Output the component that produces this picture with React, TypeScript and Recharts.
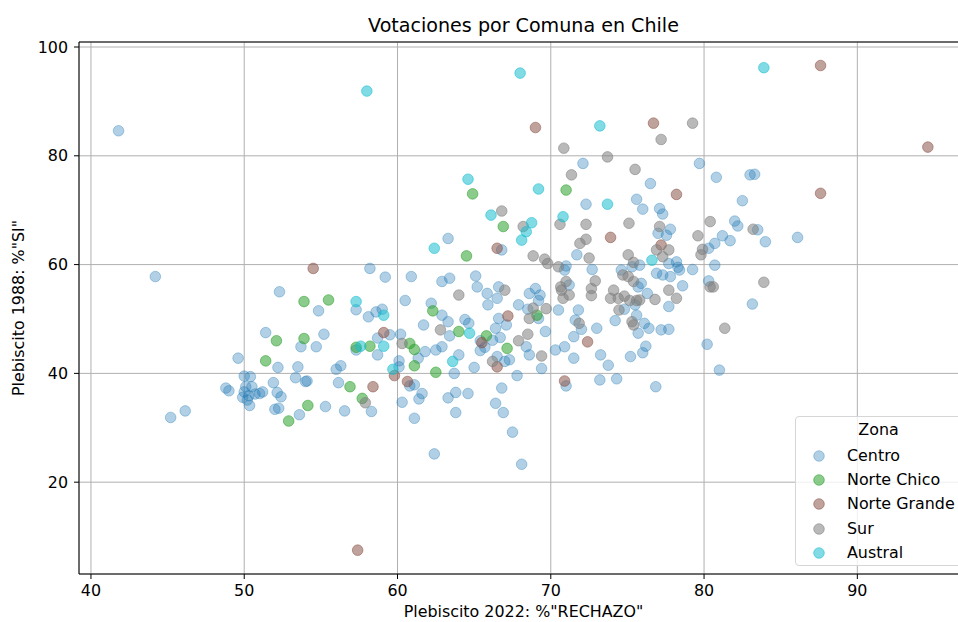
import React from 'react';
import { ScatterChart, Scatter, XAxis, YAxis, CartesianGrid, ReferenceLine } from 'recharts';

// [% RECHAZO 2022, % SI 1988] por comuna
const centro: number[][] = [
  [41.8, 84.6], [44.2, 57.8], [58.2, 59.3], [52.3, 55.0], [57.3, 51.7], [54.85, 51.5], [58.1, 50.4], [58.6, 51.3],
  [51.4, 47.5], [55.2, 47.2], [53.7, 44.9], [54.7, 44.9], [57.3, 44.3], [58.7, 46.5], [58.7, 43.4], [49.6, 42.8],
  [52.2, 41.1], [53.5, 41.2], [50.0, 39.5], [50.4, 39.4], [51.9, 38.3], [53.35, 39.2], [54.0, 38.5], [54.1, 38.6],
  [56.0, 40.75], [56.3, 41.4], [56.15, 38.3], [48.8, 37.3], [49.0, 36.8], [50.1, 37.55], [50.5, 37.55], [50.0, 36.6],
  [50.3, 35.9], [49.9, 35.6], [50.2, 35.1], [50.35, 34.1], [50.7, 36.2], [51.0, 36.3], [51.2, 36.6], [52.15, 36.5],
  [52.4, 35.7], [52.0, 33.4], [52.25, 33.6], [53.6, 32.4], [55.3, 33.9], [56.55, 33.1], [58.3, 33.0], [45.2, 31.9],
  [46.15, 33.1], [63.3, 64.8], [66.8, 62.7], [71.0, 59.75], [70.9, 59.0], [71.7, 61.8], [77.0, 65.75], [77.55, 65.4],
  [59.2, 57.7], [60.9, 57.8], [60.5, 53.4], [62.2, 52.9], [62.9, 50.7], [62.9, 56.9], [63.4, 57.5], [65.1, 57.9],
  [65.2, 55.9], [65.85, 54.7], [65.9, 52.6], [66.5, 53.8], [66.6, 55.9], [67.9, 52.6], [68.6, 54.7], [69.0, 55.6],
  [69.3, 54.4], [69.2, 53.4], [68.5, 51.8], [69.2, 50.1], [69.65, 47.7], [70.5, 51.65], [71.8, 51.65], [71.6, 49.8],
  [72.0, 48.1], [71.5, 46.75], [73.0, 48.3], [70.3, 44.3], [70.9, 44.9], [71.5, 42.8], [73.25, 43.4], [73.75, 41.5],
  [74.3, 39.0], [73.2, 38.8], [75.2, 43.1], [76.0, 43.8], [76.2, 45.0], [76.85, 37.55], [71.0, 37.7], [59.0, 51.8],
  [59.5, 47.1], [60.2, 47.2], [61.7, 48.9], [63.4, 46.9], [64.4, 49.9], [64.65, 49.2], [63.3, 49.5], [61.8, 44.0],
  [62.5, 44.3], [62.9, 44.9], [61.35, 42.8], [64.0, 43.4], [63.7, 40.0], [65.0, 41.1], [60.1, 42.3], [60.1, 41.2],
  [60.8, 37.7], [61.1, 37.9], [61.6, 36.3], [61.4, 35.3], [60.3, 34.7], [61.1, 31.75], [63.3, 35.5], [63.8, 36.5],
  [64.6, 36.3], [63.8, 32.8], [66.4, 34.5], [66.9, 32.8], [66.8, 37.3], [67.8, 39.6], [67.5, 29.2], [65.7, 44.8],
  [65.4, 44.2], [65.4, 46.0], [66.2, 46.1], [66.7, 46.6], [66.4, 48.3], [67.1, 48.9], [66.6, 50.1], [66.5, 43.1],
  [67.0, 42.2], [67.3, 42.5], [68.4, 44.9], [68.6, 43.4], [69.4, 40.9], [71.2, 56.25], [72.7, 59.1], [74.6, 59.0],
  [75.3, 59.6], [75.8, 59.9], [75.7, 55.9], [75.9, 56.55], [76.3, 54.7], [75.5, 52.6], [74.8, 51.8], [74.2, 49.7],
  [75.6, 50.7], [76.1, 49.2], [76.4, 48.3], [75.7, 47.4], [77.2, 48.0], [77.7, 48.1], [76.9, 58.4], [77.3, 58.1],
  [77.8, 57.8], [77.7, 52.3], [81.2, 65.3], [81.7, 64.4], [80.7, 63.9], [80.3, 63.0], [80.7, 59.9], [84.0, 64.2],
  [86.1, 65.0], [83.5, 66.4], [77.7, 60.2], [78.2, 60.5], [78.3, 59.5], [78.4, 59.0], [79.25, 59.1], [78.6, 56.1],
  [80.3, 57.0], [83.15, 52.75], [80.2, 45.35], [81.0, 40.6], [79.7, 78.6], [80.8, 76.05], [83.0, 76.5], [83.3, 76.6],
  [82.5, 71.75], [82.0, 68.0], [82.2, 67.1], [77.1, 70.3], [77.3, 69.3], [77.8, 66.5], [72.1, 78.6], [76.5, 74.9],
  [72.3, 71.1], [75.6, 72.0], [76.0, 70.2], [62.4, 25.2], [68.1, 23.3],
];

const norteChico: number[][] = [
  [53.9, 53.2], [55.5, 53.5], [52.1, 46.0], [53.9, 46.4], [57.3, 44.8], [58.2, 45.0], [51.4, 42.3], [56.9, 37.55],
  [54.15, 34.1], [57.7, 35.4], [52.9, 31.25], [64.5, 61.6], [66.9, 67.0], [62.3, 51.5], [64.0, 47.7], [60.8, 45.5],
  [61.1, 44.4], [61.1, 41.4], [62.5, 40.2], [65.8, 46.9], [67.15, 44.6], [69.1, 50.7], [64.9, 73.0], [71.0, 73.7],
];

const norteGrande: number[][] = [
  [54.5, 59.3], [58.4, 37.55], [66.5, 63.0], [73.9, 65.0], [77.2, 63.6], [59.1, 47.5], [72.4, 45.8], [70.9, 38.6],
  [65.5, 45.65], [67.2, 50.55], [66.5, 41.2], [59.8, 39.6], [60.65, 38.5], [69.0, 85.2], [76.7, 86.0], [87.6, 96.6],
  [94.6, 81.6], [87.6, 73.1], [78.2, 72.9], [57.4, 7.5],
];

const sur: number[][] = [
  [57.9, 34.6], [68.85, 61.6], [69.6, 61.0], [69.8, 60.2], [70.5, 59.6], [71.9, 63.9], [72.3, 64.65], [72.5, 61.2],
  [75.05, 61.8], [75.4, 60.4], [76.9, 62.7], [77.3, 61.45], [77.7, 62.7], [64.0, 54.4], [67.0, 55.3], [68.85, 52.0],
  [69.7, 51.9], [68.6, 50.1], [71.85, 49.2], [60.3, 45.5], [62.8, 48.0], [66.2, 42.2], [67.9, 46.0], [68.5, 47.2],
  [69.4, 43.2], [70.65, 55.9], [70.8, 53.8], [71.2, 54.4], [71.0, 56.9], [70.7, 55.3], [72.65, 55.6], [72.9, 57.0],
  [72.65, 54.3], [73.9, 53.8], [74.4, 53.8], [74.8, 54.2], [74.1, 55.3], [74.7, 58.1], [75.05, 57.8], [75.4, 56.9],
  [75.15, 53.4], [75.6, 53.4], [75.8, 53.5], [74.45, 51.65], [75.3, 49.5], [75.4, 48.9], [76.8, 53.6], [77.7, 55.3],
  [79.6, 65.3], [79.9, 62.8], [79.8, 61.8], [78.2, 53.8], [80.4, 55.9], [80.6, 55.9], [83.9, 56.75], [81.35, 48.3],
  [79.25, 86.0], [77.2, 83.0], [80.4, 67.9], [83.2, 66.5], [77.1, 67.0], [70.85, 81.4], [73.7, 79.8], [75.5, 77.5],
  [71.35, 76.5], [66.8, 69.85], [68.2, 67.0], [70.6, 67.4], [72.3, 67.4], [75.1, 67.6],
];

const austral: number[][] = [
  [57.3, 53.2], [57.6, 45.0], [62.4, 63.0], [68.4, 66.05], [68.1, 64.5], [76.6, 60.8], [59.1, 50.7], [59.1, 45.0],
  [64.7, 47.4], [63.6, 42.2], [59.7, 40.75], [83.9, 96.2], [68.0, 95.2], [73.2, 85.5], [64.6, 75.7], [69.2, 73.9],
  [73.7, 71.1], [66.1, 69.1], [68.75, 67.7], [70.8, 68.8], [58.0, 91.9],
];

const xTicks = [40, 50, 60, 70, 80, 90];
const yTicks = [20, 40, 60, 80, 100];

const zonas = [
  { name: 'Centro', data: centro, color: '#1f77b4', alpha: 0.35 },
  { name: 'Norte Chico', data: norteChico, color: '#2ca02c', alpha: 0.55 },
  { name: 'Norte Grande', data: norteGrande, color: '#8c564b', alpha: 0.55 },
  { name: 'Sur', data: sur, color: '#7f7f7f', alpha: 0.55 },
  { name: 'Austral', data: austral, color: '#17becf', alpha: 0.55 },
];

const font = '"DejaVu Sans", sans-serif';
const fs = 15.9;
const tickStyle = { fontSize: fs, fill: '#000', fontFamily: font };

const dot = (color: string, alpha: number) => (p: any) => (
  <circle cx={p.cx} cy={p.cy} r={5.3} fill={color} fillOpacity={alpha} stroke={color} strokeOpacity={alpha} strokeWidth={1} />
);

export default function App() {
  return (
    <div style={{ position: 'absolute', left: 0, top: 0, width: 958, height: 622, overflow: 'hidden', background: '#fff', fontFamily: font }}>
      <div style={{ position: 'absolute', left: 79, width: 889, top: 14, textAlign: 'center', fontSize: 19.1, color: '#000', lineHeight: 'normal' }}>
        Votaciones por Comuna en Chile
      </div>
      <ScatterChart width={970} height={622} margin={{ top: 42, right: 2, left: 0, bottom: 0 }}>
        <CartesianGrid stroke="#b0b0b0" strokeWidth={1} />
        <XAxis
          type="number"
          dataKey="x"
          domain={[39.22, 97.22]}
          ticks={xTicks}
          allowDataOverflow
          height={48}
          stroke="#000"
          tickSize={5}
          tickMargin={6}
          tick={tickStyle}
          label={{ value: 'Plebiscito 2022: %"RECHAZO"', position: 'insideBottom', offset: 5, style: { fontSize: fs, fill: '#000', fontFamily: font } }}
        />
        <YAxis
          type="number"
          dataKey="y"
          domain={[3.12, 100.92]}
          ticks={yTicks}
          allowDataOverflow
          width={79}
          stroke="#000"
          tickSize={5}
          tickMargin={6}
          tick={tickStyle}
          label={{ value: 'Plebiscito 1988: %"SI"', angle: -90, position: 'insideLeft', offset: 18, style: { fontSize: fs, fill: '#000', fontFamily: font, textAnchor: 'middle' } }}
        />
        <ReferenceLine y={100.92} stroke="#000" strokeWidth={1} />
        {zonas.map((z) => (
          <Scatter
            key={z.name}
            name={z.name}
            data={z.data.map(([x, y]) => ({ x, y }))}
            shape={dot(z.color, z.alpha)}
            isAnimationActive={false}
          />
        ))}
      </ScatterChart>
      <div style={{ position: 'absolute', left: 795, top: 416, width: 167, height: 150, boxSizing: 'border-box', border: '1px solid #d6d6d6', borderRadius: 4, background: 'rgba(255,255,255,0.8)', fontSize: fs, color: '#000', lineHeight: 'normal' }}>
        <div style={{ position: 'absolute', left: 0, right: 0, top: 3, textAlign: 'center' }}>Zona</div>
        {zonas.map((z, i) => (
          <div key={z.name} style={{ position: 'absolute', left: 0, top: 29 + i * 24.2, height: 20, width: 170 }}>
            <svg width={14} height={14} style={{ position: 'absolute', left: 16, top: 3 }}>
              <circle cx={7} cy={7} r={5.3} fill={z.color} fillOpacity={z.alpha} stroke={z.color} strokeOpacity={z.alpha} />
            </svg>
            <span style={{ position: 'absolute', left: 51, top: 0, whiteSpace: 'nowrap' }}>{z.name}</span>
          </div>
        ))}
      </div>
    </div>
  );
}
